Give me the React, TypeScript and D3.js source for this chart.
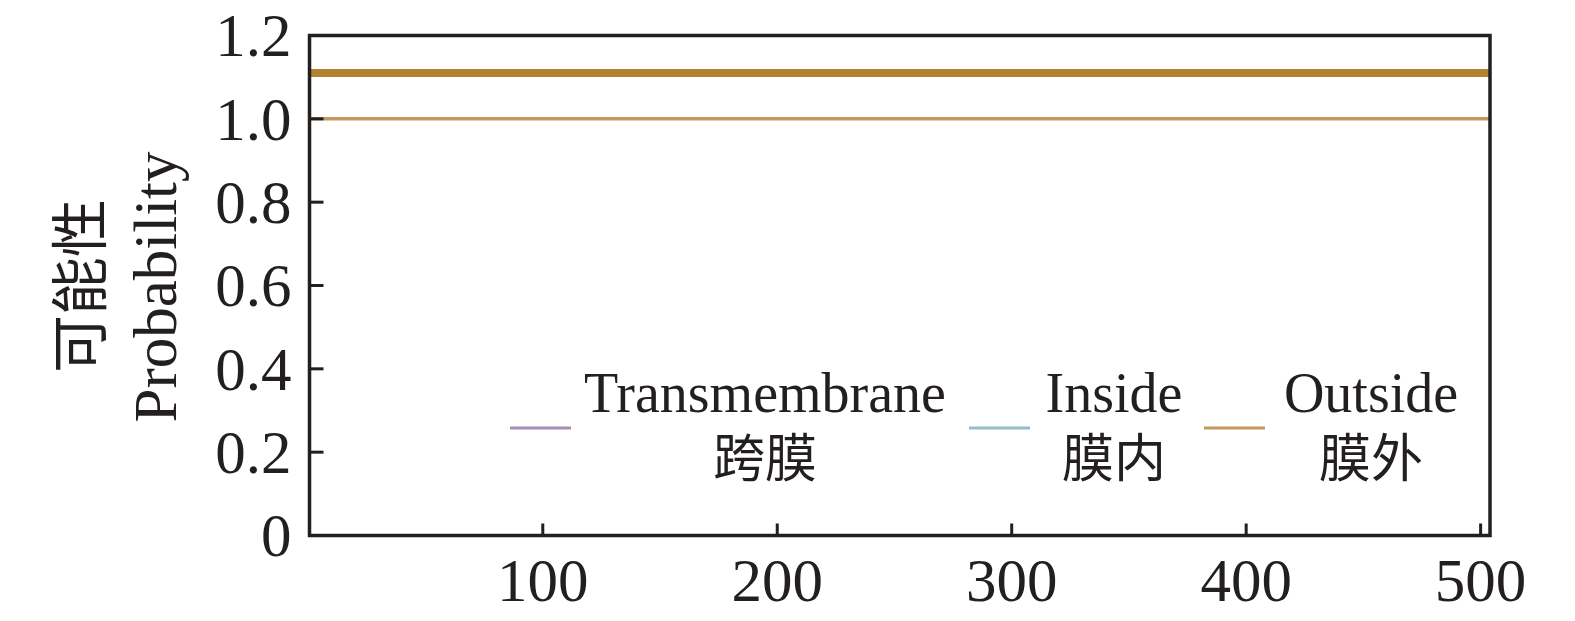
import * as d3 from "d3";

// residue positions sampled along the sequence
const positions = [1, 100, 200, 300, 400, 504];
const transmembrane = [0, 0, 0, 0, 0, 0];
const inside = [0, 0, 0, 0, 0, 0];
const outside = [1, 1, 1, 1, 1, 1];
// topology bar drawn above the curves
const topologyLevel = 1.11;

const xTicks = [100, 200, 300, 400, 500];
const yTicks = [0, 0.2, 0.4, 0.6, 0.8, 1.0, 1.2];
const yTickLabels = ["0", "0.2", "0.4", "0.6", "0.8", "1.0", "1.2"];

const legend = [
  { en: "Transmembrane", zh: "跨膜", color: "#a58db8" },
  { en: "Inside", zh: "膜内", color: "#93bdc9" },
  { en: "Outside", zh: "膜外", color: "#c49a5c" },
];

const serif = '"Liberation Serif", "Times New Roman", serif';
const cjk = '"Noto Sans CJK SC", "Noto Sans CJK TC", sans-serif';

export default function App() {
  const width = 1575;
  const height = 621;
  const margin = { top: 35.5, right: 85, bottom: 85.5, left: 309.5 };
  const innerW = width - margin.left - margin.right;
  const innerH = height - margin.top - margin.bottom;

  const x = d3.scaleLinear().domain([0.5, 504]).range([0, innerW]);
  const y = d3.scaleLinear().domain([0, 1.2]).range([innerH, 0]);

  const line = d3
    .line<number>()
    .x((_, i) => x(positions[i]))
    .y((d) => y(d));

  const legendX = [510, 969, 1204];
  const textCenter = [765, 1114, 1371];

  return (
    <svg
      width={width}
      height={height}
      style={{ position: "absolute", left: 0, top: 0, background: "#fff" }}
    >
      <g transform={`translate(${margin.left},${margin.top})`}>
        {/* curves */}
        <path d={line(transmembrane) ?? ""} fill="none" stroke="#a58db8" strokeWidth={3} />
        <path d={line(inside) ?? ""} fill="none" stroke="#7fa9b3" strokeWidth={3} />
        <path d={line(outside) ?? ""} fill="none" stroke="#c49a5c" strokeWidth={3.5} />
        <line
          x1={x(positions[0])}
          x2={x(positions[positions.length - 1])}
          y1={y(topologyLevel)}
          y2={y(topologyLevel)}
          stroke="#b3822f"
          strokeWidth={8}
        />

        {/* y ticks */}
        {yTicks.map((t, i) => (
          <g key={t} transform={`translate(0,${y(t)})`}>
            {t > 0 && t < 1.2 && (
              <line x1={0} x2={14} stroke="#231f20" strokeWidth={3} />
            )}
            <text
              x={-18}
              dy="0.34em"
              textAnchor="end"
              style={{ fontFamily: serif, fontSize: 61, fill: "#231f20" }}
            >
              {yTickLabels[i]}
            </text>
          </g>
        ))}

        {/* x ticks */}
        {xTicks.map((t) => (
          <g key={t} transform={`translate(${x(t)},${innerH})`}>
            <line y1={0} y2={-12} stroke="#231f20" strokeWidth={3} />
            <text
              y={65}
              textAnchor="middle"
              style={{ fontFamily: serif, fontSize: 61, fill: "#231f20" }}
            >
              {t}
            </text>
          </g>
        ))}

        {/* frame */}
        <rect
          x={0}
          y={0}
          width={innerW}
          height={innerH}
          fill="none"
          stroke="#231f20"
          strokeWidth={3.5}
        />
      </g>

      {/* legend */}
      {legend.map((l, i) => (
        <g key={l.en}>
          <line
            x1={legendX[i]}
            x2={legendX[i] + 61}
            y1={428}
            y2={428}
            stroke={l.color}
            strokeWidth={3}
          />
          <text
            x={textCenter[i]}
            y={412}
            textAnchor="middle"
            style={{ fontFamily: serif, fontSize: 56, fill: "#231f20" }}
          >
            {l.en}
          </text>
          <text
            x={textCenter[i]}
            y={477}
            textAnchor="middle"
            style={{ fontFamily: cjk, fontSize: 52, fill: "#231f20" }}
          >
            {l.zh}
          </text>
        </g>
      ))}

      {/* y axis title */}
      <text
        transform="translate(176,287) rotate(-90)"
        textAnchor="middle"
        style={{ fontFamily: serif, fontSize: 61, fill: "#231f20" }}
      >
        Probability
      </text>
      <text
        transform="translate(101,286) rotate(-90)"
        textAnchor="middle"
        style={{ fontFamily: cjk, fontSize: 58, fill: "#231f20" }}
      >
        可能性
      </text>
    </svg>
  );
}
